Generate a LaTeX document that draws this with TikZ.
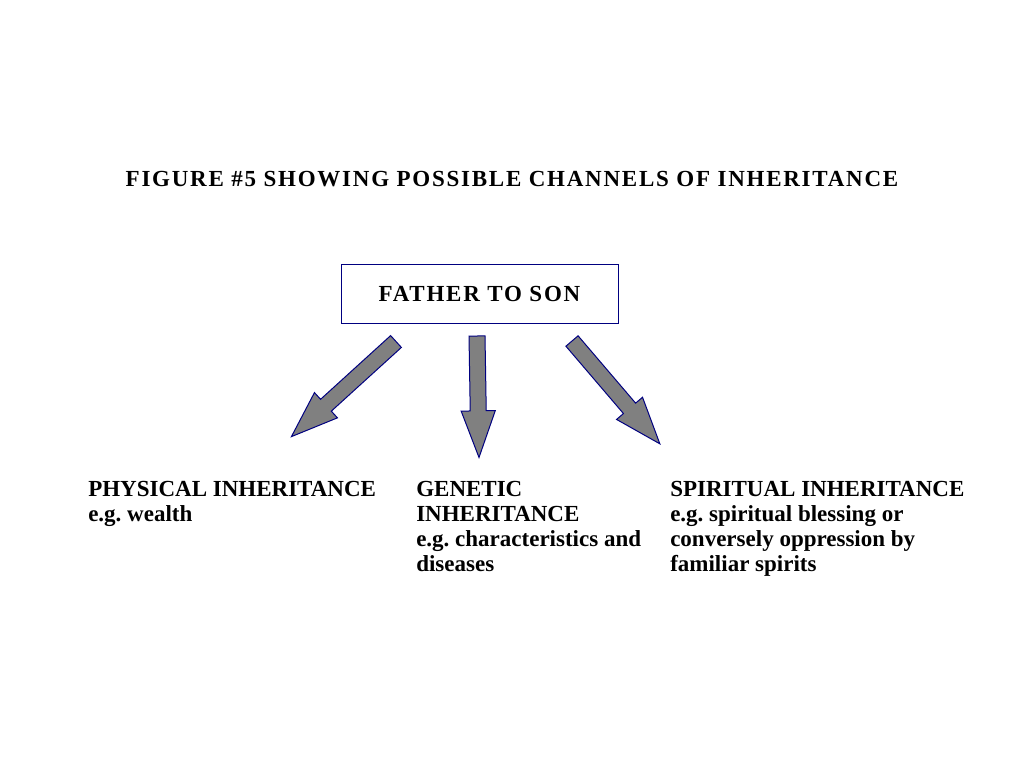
\documentclass[tikz,border=0pt]{standalone}
\usepackage{fontspec}
\setmainfont{Liberation Serif}
\newfontfamily\spacedfont[LetterSpace=7.6]{Liberation Serif}
\frenchspacing
\usepackage{tikz}
\usetikzlibrary{calc}
\definecolor{navyline}{RGB}{0,0,128}
\definecolor{arrowgray}{RGB}{128,128,128}
\tikzset{
  spaced/.style={font=\spacedfont\bfseries\fontsize{17.25pt}{18.75pt}\selectfont, inner sep=0pt},
  channel/.style={font=\bfseries\fontsize{17.25pt}{18.75pt}\selectfont, align=left, inner sep=0pt},
  bigarrow/.style={fill=arrowgray, draw=navyline, line width=0.75pt, line join=miter}
}
\newcommand{\blockarrow}[2]{%
  \path[bigarrow] let \p1=($(#2)-(#1)$), \n1={atan2(\y1,\x1)}, \n2={veclen(\x1,\y1)} in
    [shift={(#1)}, rotate=\n1]
    (0pt,-6pt) -- ({\n2*1pt-35pt},-6pt) -- ({\n2*1pt-35pt},-12.8pt) -- ({\n2*1pt},0pt)
    -- ({\n2*1pt-35pt},12.8pt) -- ({\n2*1pt-35pt},6pt) -- (0pt,6pt) -- cycle;}

\begin{document}
\begin{tikzpicture}[x=0.75pt, y=-0.75pt]
    \useasboundingbox[fill=white] (0,0) rectangle (1024,768);

    \node[spaced, anchor=base] (title) at (512,186)
      {FIGURE \#5 SHOWING POSSIBLE CHANNELS OF INHERITANCE};

    \node[spaced, draw=navyline, line width=0.75pt,
          minimum width=207.75pt, minimum height=44.25pt] (father) at (479.5,293.5)
      {FATHER TO SON};

    % tails and tips of the three big arrows
    \coordinate (ltail) at (396,341.5);
    \coordinate (ltip)  at (291,437);
    \coordinate (mtail) at (477,336);
    \coordinate (mtip)  at (479,457.5);
    \coordinate (rtail) at (572,341);
    \coordinate (rtip)  at (660,444);

    \blockarrow{ltail}{ltip}
    \blockarrow{mtail}{mtip}
    \blockarrow{rtail}{rtip}

    \node[channel, anchor=north west] (physical) at (88,481)
      {PHYSICAL INHERITANCE\\e.g. wealth};
    \node[channel, anchor=north west] (genetic) at (416,481)
      {GENETIC\\INHERITANCE\\e.g. characteristics and\\diseases};
    \node[channel, anchor=north west] (spiritual) at (670,481)
      {SPIRITUAL INHERITANCE\\e.g. spiritual blessing or\\conversely oppression by\\familiar spirits};
\end{tikzpicture}
\end{document}
